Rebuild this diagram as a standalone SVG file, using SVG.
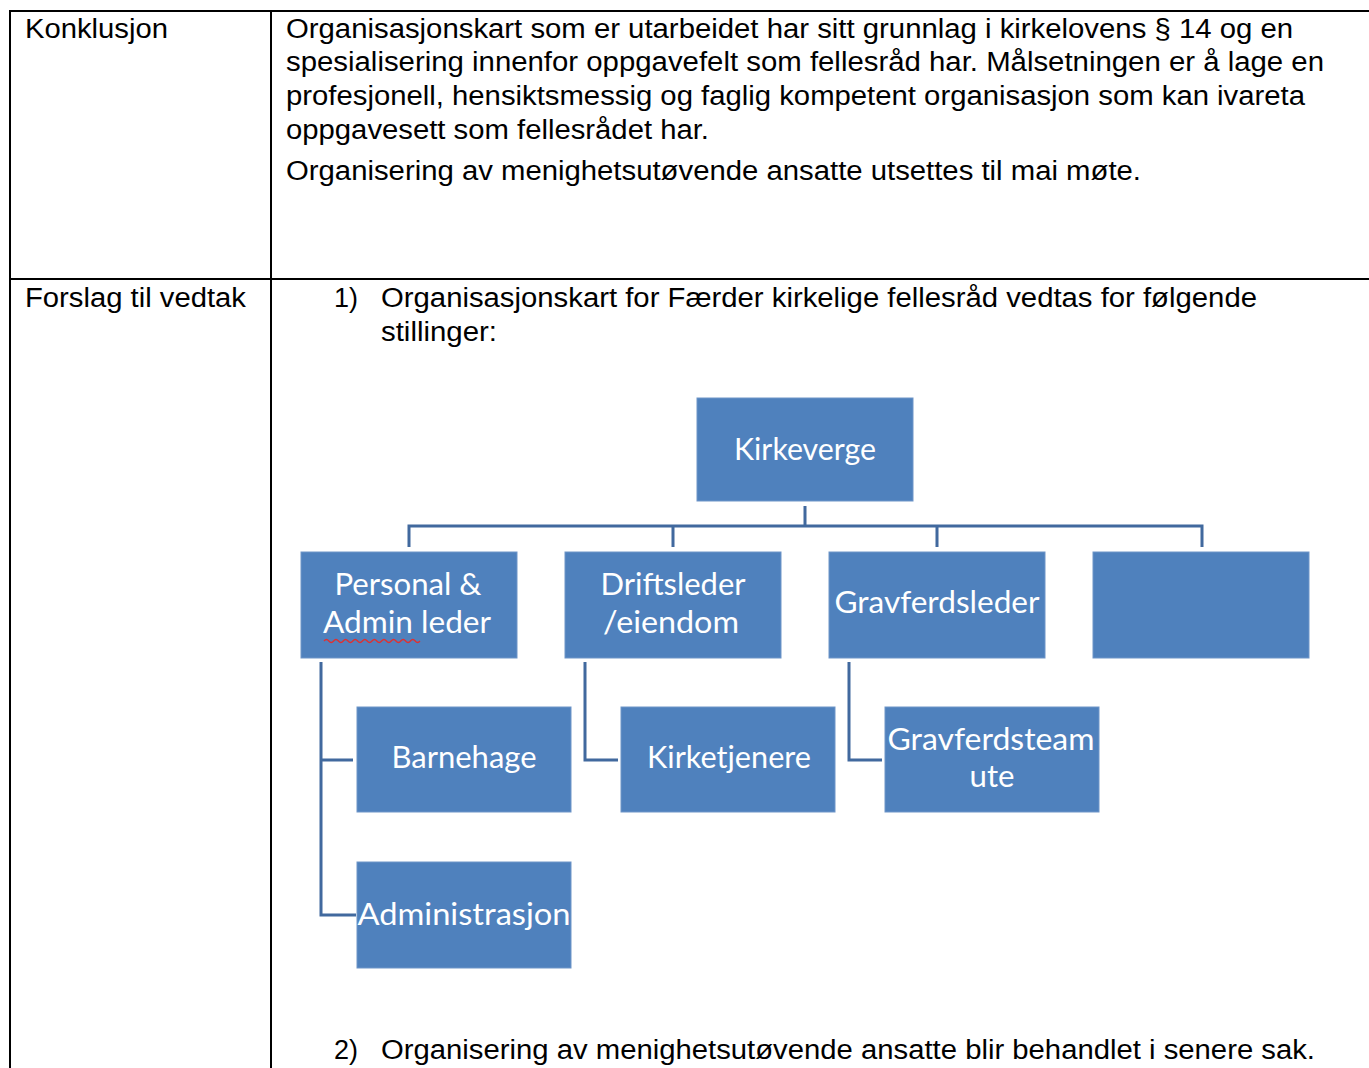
<svg xmlns="http://www.w3.org/2000/svg" width="1369" height="1068" viewBox="0 0 1369 1068">
<defs>
<style>
.grid{stroke:#000;stroke-width:2;fill:none}
.t{font-family:"Liberation Sans",Arial,sans-serif;font-size:27px;fill:#000}
.box{fill:#4F81BD;stroke:#6E95C8;stroke-width:1}
.bt{font-family:Lato,"Open Sans",sans-serif;font-size:30px;fill:#fff;text-anchor:middle}
.c{stroke:#41699E;stroke-width:3;fill:none;stroke-linejoin:miter}
</style>
</defs>
<rect width="1369" height="1068" fill="#fff"/>
<g id="table">
<path class="grid" d="M10 11H1369M10 279H1369M10 10V1068M271 11V1068"/>
</g>
<g id="texts">
<text class="t" x="25" y="38" textLength="143" lengthAdjust="spacingAndGlyphs">Konklusjon</text>
<text class="t" x="286" y="38" textLength="1007" lengthAdjust="spacingAndGlyphs">Organisasjonskart som er utarbeidet har sitt grunnlag i kirkelovens § 14 og en</text>
<text class="t" x="286" y="71" textLength="1038" lengthAdjust="spacingAndGlyphs">spesialisering innenfor oppgavefelt som fellesråd har. Målsetningen er å lage en</text>
<text class="t" x="286" y="105" textLength="1019" lengthAdjust="spacingAndGlyphs">profesjonell, hensiktsmessig og faglig kompetent organisasjon som kan ivareta</text>
<text class="t" x="286" y="139" textLength="423" lengthAdjust="spacingAndGlyphs">oppgavesett som fellesrådet har.</text>
<text class="t" x="286" y="180" textLength="855" lengthAdjust="spacingAndGlyphs">Organisering av menighetsutøvende ansatte utsettes til mai møte.</text>
<text class="t" x="25" y="307" textLength="221" lengthAdjust="spacingAndGlyphs">Forslag til vedtak</text>
<text class="t" x="334" y="307">1)</text>
<text class="t" x="381" y="307" textLength="876" lengthAdjust="spacingAndGlyphs">Organisasjonskart for Færder kirkelige fellesråd vedtas for følgende</text>
<text class="t" x="381" y="341" textLength="116" lengthAdjust="spacingAndGlyphs">stillinger:</text>
<text class="t" x="334" y="1059">2)</text>
<text class="t" x="381" y="1059" textLength="934" lengthAdjust="spacingAndGlyphs">Organisering av menighetsutøvende ansatte blir behandlet i senere sak.</text>
</g>
<g id="connectors">
<path class="c" d="M805 506V526M409 547V526H1202V547M673 526V547M937 526V547"/>
<path class="c" d="M321 662V915H356M321 760H353"/>
<path class="c" d="M585 662V760H618"/>
<path class="c" d="M849 662V760H882"/>
</g>
<g id="kirkeverge"><rect class="box" x="697" y="398" width="216" height="103"/><text class="bt" x="805" y="460" textLength="142" lengthAdjust="spacingAndGlyphs">Kirkeverge</text></g>
<g id="personal"><rect class="box" x="301" y="552" width="216" height="106"/><text class="bt" x="408" y="595" textLength="147" lengthAdjust="spacingAndGlyphs">Personal &amp;</text><text class="bt" x="407" y="633" textLength="168" lengthAdjust="spacingAndGlyphs">Admin leder</text><path d="M324 641q2.4 -3 4.8 0t4.8 0t4.8 0t4.8 0t4.8 0t4.8 0t4.8 0t4.8 0t4.8 0t4.8 0t4.8 0t4.8 0t4.8 0t4.8 0t4.8 0t4.8 0t4.8 0t4.8 0t4.8 0t4.8 0" fill="none" stroke="#E03030" stroke-width="1.3"/></g>
<g id="driftsleder"><rect class="box" x="565" y="552" width="216" height="106"/><text class="bt" x="673" y="595" textLength="145" lengthAdjust="spacingAndGlyphs">Driftsleder</text><text class="bt" x="671" y="633" textLength="136" lengthAdjust="spacingAndGlyphs">/eiendom</text></g>
<g id="gravferdsleder"><rect class="box" x="829" y="552" width="216" height="106"/><text class="bt" x="937" y="613" textLength="205" lengthAdjust="spacingAndGlyphs">Gravferdsleder</text></g>
<g id="empty"><rect class="box" x="1093" y="552" width="216" height="106"/></g>
<g id="barnehage"><rect class="box" x="357" y="707" width="214" height="105"/><text class="bt" x="464" y="768" textLength="145" lengthAdjust="spacingAndGlyphs">Barnehage</text></g>
<g id="kirketjenere"><rect class="box" x="621" y="707" width="214" height="105"/><text class="bt" x="729" y="768" textLength="164" lengthAdjust="spacingAndGlyphs">Kirketjenere</text></g>
<g id="gravferdsteam"><rect class="box" x="885" y="707" width="214" height="105"/><text class="bt" x="991" y="750" textLength="207" lengthAdjust="spacingAndGlyphs">Gravferdsteam</text><text class="bt" x="992" y="787" textLength="45" lengthAdjust="spacingAndGlyphs">ute</text></g>
<g id="administrasjon"><rect class="box" x="357" y="862" width="214" height="106"/><text class="bt" x="464" y="925" textLength="213" lengthAdjust="spacingAndGlyphs">Administrasjon</text></g>
</svg>
